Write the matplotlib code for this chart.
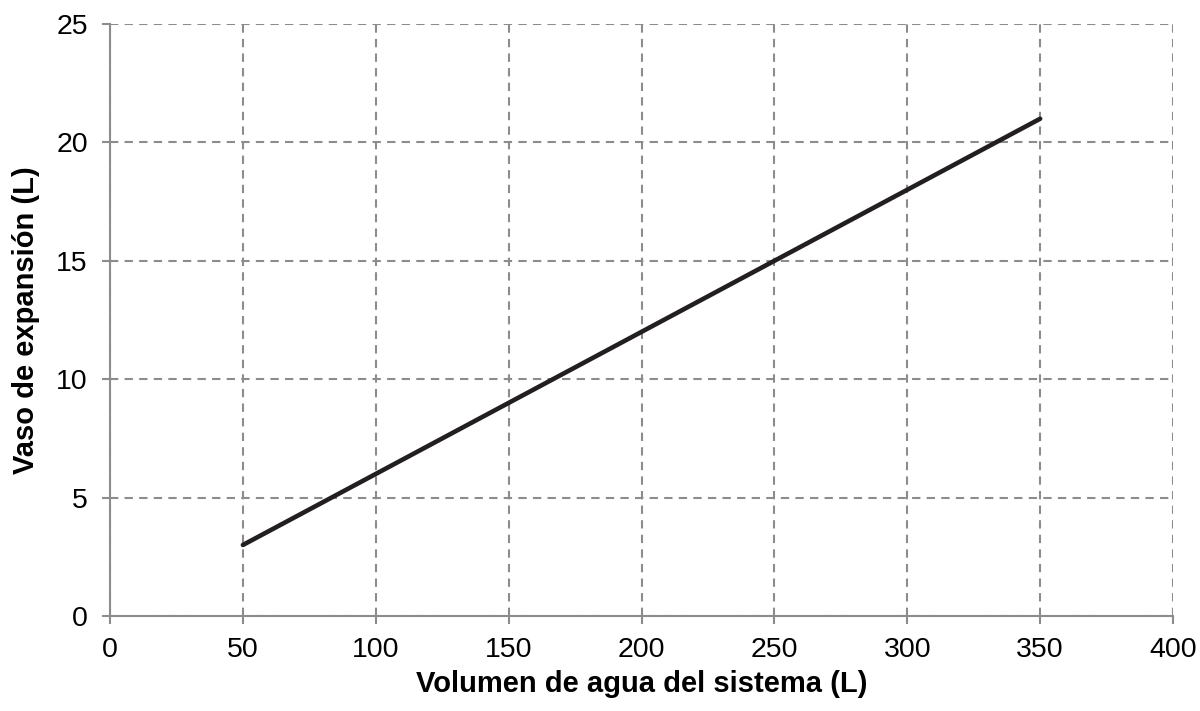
import matplotlib
matplotlib.use("Agg")
import matplotlib.pyplot as plt

plt.rcParams["font.family"] = ["Liberation Sans", "DejaVu Sans"]

# datos
volumen = [50, 100, 150, 200, 250, 300, 350]
vaso = [3, 6, 9, 12, 15, 18, 21]

x_ticks = [0, 50, 100, 150, 200, 250, 300, 350, 400]
y_ticks = [0, 5, 10, 15, 20, 25]

fig = plt.figure(figsize=(12, 7.11), dpi=100)
ax = fig.add_axes([0.0917, 0.1336, 0.8858, 0.8326])

ax.plot(volumen, vaso, color="#231f20", linewidth=3.3, solid_capstyle="round", zorder=3)

ax.set_xlim(0, 400)
ax.set_ylim(0, 25)
ax.set_xticks(x_ticks)
ax.set_yticks(y_ticks)

ax.grid(True, color="#8c8c8e", linestyle=(0, (4, 3)), linewidth=1.5)
ax.set_axisbelow(True)

for s in ["top", "right"]:
    ax.spines[s].set_visible(False)
for s in ["left", "bottom"]:
    ax.spines[s].set_color("#8c8c8e")
    ax.spines[s].set_linewidth(1.5)

ax.tick_params(axis="both", colors="#8c8c8e", length=6, width=1.5,
               labelsize=20.5, labelcolor="black")
ax.tick_params(axis="x", pad=9)
ax.tick_params(axis="y", pad=10)

ax.set_xlabel("Volumen de agua del sistema (L)", fontsize=21, fontweight="bold", labelpad=5)
ax.set_ylabel("Vaso de expansión (L)", fontsize=21, fontweight="bold", labelpad=12)

fig.savefig("out.png", dpi=100)
plt.close()
